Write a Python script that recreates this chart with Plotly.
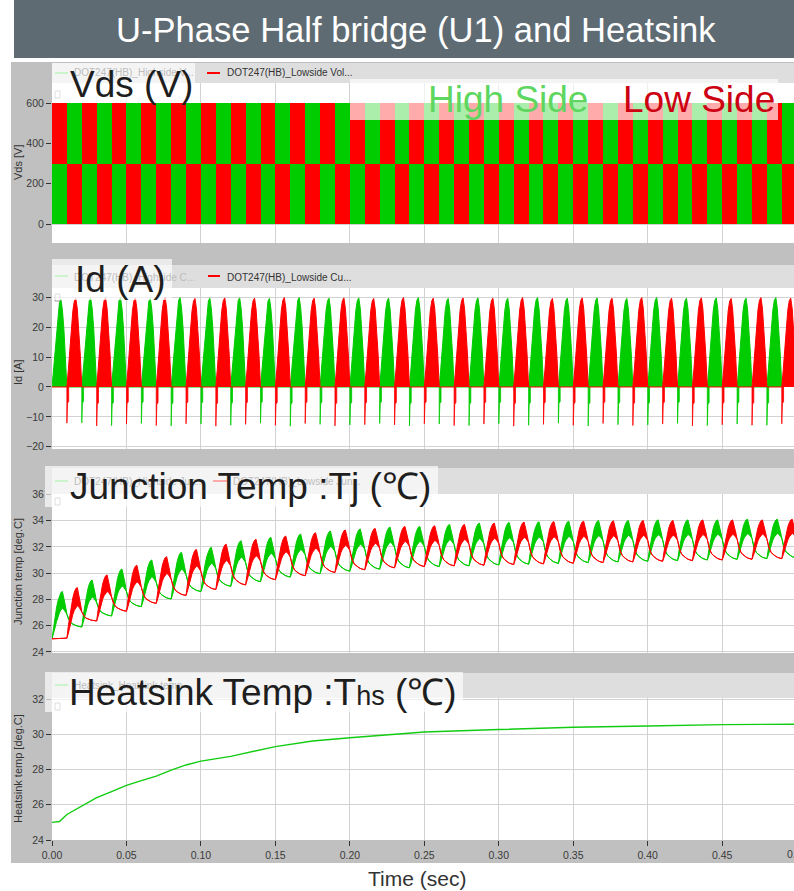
import plotly.graph_objects as go

W, H = 794, 891
FONT = "Liberation Sans, Arial, sans-serif"

# ---------------- data ----------------
half_period = 0.01            # s, one conduction half-cycle (50 Hz fundamental)
n_half = 50                   # half-cycles in 0 ... 0.5 s
t_end = 0.4982                # right edge of the time axis (0.50 sits just off-picture)
x_ticks = [0.0, 0.05, 0.10, 0.15, 0.20, 0.25, 0.30, 0.35, 0.40, 0.45]

vds_bus = 600                 # V
vds_split = 300               # V, where the two colour rows meet
vds_ticks = [0, 200, 400, 600]

# Id: peak of every conduction hump [A]  (high side at 0.00, 0.02 ...; low side at 0.01, 0.03 ...)
id_hs_peak = [29.2, 29.7, 29.8, 29.6, 29.9, 29.7, 29.8, 29.6, 29.9, 29.7, 29.8, 29.7, 29.9,
              29.6, 29.8, 29.7, 29.9, 29.7, 29.8, 29.6, 29.9, 29.7, 29.8, 29.7, 29.9]
id_ls_peak = [29.6, 29.8, 29.7, 29.9, 29.6, 29.8, 29.7, 29.9, 29.7, 29.8, 29.6, 29.9, 29.7,
              29.8, 29.7, 29.9, 29.6, 29.8, 29.7, 29.9, 29.7, 29.8, 29.6, 29.9, 29.7]
# reverse spike at the start of each hump [A] (first high-side hump has none)
id_hs_spike = [0.0, -12.0, -12.9, -12.2, -13.0, -12.4, -12.8, -12.1, -13.1, -12.5, -12.7, -12.2, -13.0,
               -12.4, -12.9, -12.3, -12.8, -12.1, -13.0, -12.6, -12.7, -12.2, -12.9, -12.4, -12.8]
id_ls_spike = [-12.1, -13.0, -12.4, -12.9, -12.3, -13.1, -12.5, -12.8, -12.2, -13.0, -12.6, -12.7, -12.3,
               -12.9, -12.4, -13.1, -12.5, -12.8, -12.2, -12.9, -12.4, -13.0, -12.6, -12.8, -12.3]
# hump shape (fraction of peak) at 1 ms steps across a half-cycle
id_hump_profile = [0.0, 0.20, 0.44, 0.67, 0.86, 0.97, 1.0, 0.88, 0.66, 0.36, 0.0]
id_ticks = [-20, -10, 0, 10, 20, 30]

# Junction temperature [deg C]
tj_hs_trough = [25.0, 25.9, 26.74, 27.45, 28.03, 28.6, 29.0, 29.35, 29.7, 29.95, 30.15, 30.3, 30.4,
                30.5, 30.55, 30.62, 30.68, 30.74, 30.8, 30.85, 30.9, 30.95, 31.0, 31.05, 31.1, 31.15]
tj_hs_peak = [28.6, 29.47, 30.31, 31.0, 31.58, 31.96, 32.46, 32.72, 32.97, 33.2, 33.35, 33.5, 33.55,
              33.7, 33.8, 33.85, 33.9, 33.95, 34.0, 34.0, 34.05, 34.05, 34.05, 34.1, 34.1]
tj_ls_start = 25.0
tj_ls_trough = [25.05, 26.36, 27.1, 27.7, 28.3, 28.75, 29.1, 29.5, 29.8, 30.05, 30.25, 30.4, 30.5,
                30.55, 30.6, 30.65, 30.7, 30.75, 30.8, 30.85, 30.9, 30.95, 31.0, 31.05, 31.1, 31.15]
tj_ls_peak = [28.9, 29.86, 30.6, 31.25, 31.8, 32.2, 32.57, 32.82, 33.07, 33.28, 33.4, 33.55, 33.6,
              33.7, 33.8, 33.88, 33.92, 33.95, 33.98, 34.0, 34.0, 34.05, 34.05, 34.05, 34.1]
# ripple band during conduction (fraction of peak - trough, 1 ms steps) and decay afterwards
tj_rise_upper = [0.0, 0.25, 0.47, 0.65, 0.80, 0.91, 0.98, 1.0, 0.88, 0.70, 0.52]
tj_rise_lower = [0.0, 0.10, 0.23, 0.36, 0.47, 0.55, 0.61, 0.64, 0.62, 0.57, 0.52]
tj_decay = [0.62, 0.42, 0.30, 0.22, 0.16, 0.11, 0.07, 0.04, 0.02, 0.0]
tj_ticks = [24, 26, 28, 30, 32, 34, 36]

# Heatsink temperature [deg C]
t_hs = [0.0, 0.005, 0.01, 0.02, 0.03, 0.04, 0.05, 0.06, 0.07, 0.08, 0.09, 0.10, 0.12, 0.15,
        0.175, 0.20, 0.25, 0.30, 0.35, 0.40, 0.45, 0.4982]
ths = [25.0, 25.05, 25.45, 25.93, 26.4, 26.75, 27.1, 27.37, 27.63, 27.97, 28.26, 28.48, 28.75, 29.3,
       29.62, 29.8, 30.13, 30.27, 30.4, 30.47, 30.55, 30.57]
ths_ticks = [24, 26, 28, 30, 32]

GREEN = "#00cc00"
RED = "#ff0000"

# ---------------- helpers ----------------
def ax(x):
    return x / W

def ay(y):
    return 1 - y / H

fig = go.Figure()

# ---- Vds: colour blocks of each half cycle ----
centers = [half_period * (k + 0.5) for k in range(n_half)]
hs_base = [0 if k % 2 == 0 else vds_split for k in range(n_half)]
ls_base = [vds_split if k % 2 == 0 else 0 for k in range(n_half)]
fig.add_trace(go.Bar(x=centers, y=[vds_bus - vds_split] * n_half, base=hs_base, width=half_period,
                     marker=dict(color=GREEN, line=dict(width=0)), opacity=1, xaxis="x", yaxis="y"))
fig.add_trace(go.Bar(x=centers, y=[vds_split] * n_half, base=ls_base, width=half_period,
                     marker=dict(color=RED, line=dict(width=0)), opacity=1, xaxis="x", yaxis="y"))

# ---- Id ----
step = half_period / (len(id_hump_profile) - 1)

def hump_series(first_start, peaks):
    xs, ys = [0.0], [0.0]
    for k, p in enumerate(peaks):
        t0 = first_start + 2 * half_period * k
        for i, f in enumerate(id_hump_profile):
            xs.append(t0 + i * step)
            ys.append(p * f)
    return xs, ys

def spike_series(first_start, spikes):
    xs, ys = [], []
    for k, s in enumerate(spikes):
        if s == 0:
            continue
        t0 = first_start + 2 * half_period * k
        for dx, fy in [(0, 0), (0, 1), (0.0004, 1), (0.0004, 0.45), (0.0012, 0.4), (0.0012, 0)]:
            xs.append(t0 + dx)
            ys.append(s * fy)
        xs.append(None)
        ys.append(None)
    return xs, ys

for start, peaks, spikes, col in [(0.0, id_hs_peak, id_hs_spike, GREEN),
                                  (half_period, id_ls_peak, id_ls_spike, RED)]:
    hx, hy = hump_series(start, peaks)
    fig.add_trace(go.Scatter(x=hx, y=hy, mode="lines", fill="tozeroy", fillcolor=col,
                             line=dict(color=col, width=1), xaxis="x2", yaxis="y2"))
    sx, sy = spike_series(start, spikes)
    fig.add_trace(go.Scatter(x=sx, y=sy, mode="lines", fill="toself", fillcolor=col,
                             line=dict(color=col, width=0.8), xaxis="x2", yaxis="y2"))

# ---- Tj: lower and upper envelope, filled in between ----
tstep = half_period / (len(tj_rise_upper) - 1)

def tj_series(first_start, troughs, peaks, pre=None):
    lx, ly, ux, uy = [], [], [], []
    if pre is not None:
        lx.append(0.0)
        ly.append(pre)
        ux.append(0.0)
        uy.append(pre)
    for k, p in enumerate(peaks):
        t0 = first_start + 2 * half_period * k
        T0, T1 = troughs[k], troughs[k + 1]
        for i in range(len(tj_rise_upper)):
            t = t0 + i * tstep
            lx.append(t)
            ly.append(T0 + tj_rise_lower[i] * (p - T0))
            ux.append(t)
            uy.append(T0 + tj_rise_upper[i] * (p - T0))
        E = uy[-1]
        for j, f in enumerate(tj_decay):
            t = t0 + half_period + (j + 1) * tstep
            v = T1 + f * (E - T1)
            lx.append(t)
            ly.append(v)
            ux.append(t)
            uy.append(v)
    return lx, ly, ux, uy

for start, tr, pk, pre, col in [(0.0, tj_hs_trough, tj_hs_peak, None, GREEN),
                                (half_period, tj_ls_trough, tj_ls_peak, tj_ls_start, RED)]:
    lx, ly, ux, uy = tj_series(start, tr, pk, pre)
    fig.add_trace(go.Scatter(x=lx, y=ly, mode="lines", line=dict(color=col, width=1),
                             xaxis="x3", yaxis="y3"))
    fig.add_trace(go.Scatter(x=ux, y=uy, mode="lines", fill="tonexty", fillcolor=col,
                             line=dict(color=col, width=1), xaxis="x3", yaxis="y3"))

# ---- Heatsink ----
fig.add_trace(go.Scatter(x=t_hs, y=ths, mode="lines", line=dict(color="#11cc11", width=1.4),
                         xaxis="x4", yaxis="y4"))

# ---------------- axes ----------------
panels = [
    dict(top=83, bot=243, rng=[-94.2, 699.2], ticks=vds_ticks),
    dict(top=288, bot=449, rng=[-20.74, 33.11], ticks=id_ticks),
    dict(top=494, bot=653, rng=[23.92, 36.02], ticks=tj_ticks),
    dict(top=698, bot=840, rng=[24.0, 32.06], ticks=ths_ticks),
]
GRID = "#d2d2d2"
TICKFONT = dict(size=10.5, color="#3a3a3a", family=FONT)
layout_axes = {}
for i, p in enumerate(panels):
    sx = "" if i == 0 else str(i + 1)
    last = i == len(panels) - 1
    layout_axes["xaxis" + sx] = dict(
        domain=[ax(52), 1.0], range=[0, t_end], anchor="y" + sx, tickvals=x_ticks,
        tickformat=".2f", showgrid=True, gridcolor=GRID, gridwidth=1, zeroline=False,
        showticklabels=last, ticks="outside" if last else "", ticklen=5, tickcolor="#333",
        tickfont=TICKFONT, showline=False, fixedrange=True)
    layout_axes["yaxis" + sx] = dict(
        domain=[ay(p["bot"]), ay(p["top"])], range=p["rng"], anchor="x" + sx,
        tickvals=p["ticks"], showgrid=True, gridcolor=GRID, gridwidth=1, zeroline=False,
        ticks="outside", ticklen=5, tickcolor="#333", tickfont=TICKFONT, showline=False,
        fixedrange=True)

# ---------------- decorations ----------------
shapes = []

def rect(x0, y0, x1, y1, color, layer="below", line=None):
    shapes.append(dict(type="rect", xref="paper", yref="paper", x0=ax(x0), x1=ax(x1),
                       y0=ay(y1), y1=ay(y0), fillcolor=color,
                       line=line if line else dict(width=0), layer=layer))

def hline(x0, x1, y, color, width=2):
    shapes.append(dict(type="line", xref="paper", yref="paper", x0=ax(x0), x1=ax(x1),
                       y0=ay(y), y1=ay(y), line=dict(color=color, width=width), layer="above"))

rect(14, 0, 794, 58, "#5e6b73")
rect(11, 62, 794, 863, "#c0c0c0")
for top, bot in [(63, 83), (265, 288), (468, 494), (673, 698)]:
    rect(52, top, 794, bot, "#dedede")
for p in panels:
    rect(52, p["top"], 794, p["bot"], "white")

# legend swatches
hline(55, 68, 73, "#66dd66")
hline(207, 220, 73, RED)
hline(55, 68, 276, "#66dd66")
hline(208, 220, 276, RED)
hline(55, 68, 481, "#66dd66")
hline(213, 227, 481, RED)
hline(55, 68, 685, "#66dd66")

# small scroll handles at the top-left of each plot
for yy in [91, 294, 498, 703]:
    rect(55, yy, 60, yy + 7, "rgba(255,255,255,0)", "above", dict(color="#9a9a9a", width=1))

# translucent label boxes
BOX = "rgba(255,255,255,0.67)"
rect(52, 63, 195, 103, BOX, "above")
rect(350, 79, 778, 120, BOX, "above")
rect(52, 259, 172, 300, BOX, "above")
rect(45, 466, 438, 507, BOX, "above")
rect(45, 672, 463, 712, BOX, "above")

annotations = []

def text(s, x, y, size, color, xanchor="left", angle=0):
    annotations.append(dict(text=s, x=ax(x), y=ay(y), xref="paper", yref="paper",
                            xanchor=xanchor, yanchor="middle", showarrow=False,
                            textangle=angle, font=dict(size=size, color=color, family=FONT)))

text("U-Phase Half bridge (U1) and Heatsink", 416, 30, 34.6, "white", "center")

# small legend texts
FADED = "#bdbdbd"
text("DOT247(HB)_Highside V...", 72, 73, 10, FADED)
text("DOT247(HB)_Lowside Vol...", 225, 73, 10, "#333333")
text("DOT247(HB)_Highside C...", 72, 277, 10, FADED)
text("DOT247(HB)_Lowside Cu...", 225, 277, 10, "#333333")
text("DOT247(HB)_Highside Jun...", 72, 481, 10, FADED)
text("DOT247(HB)_Lowside Jun...", 231, 481, 10, FADED)
text("Heatsink_Heatsink temp", 72, 685, 10, FADED)

# big panel labels
BIG = 37
DARK = "#1e1e1e"
text("Vds (V)", 68, 84, BIG, DARK)
text("High Side", 426, 99, BIG, "#5fd65f")
text("Low Side", 621, 99, BIG, "#cc0011")
text("Id (A)", 73, 279, BIG, DARK)
text("Junction Temp :Tj (℃)", 68, 487, BIG, DARK)
text("Heatsink Temp :T<span style='font-size:27px'>hs</span> (℃)", 67, 692, BIG, DARK)

# y axis titles
for label, yc in [("Vds [V]", 163), ("Id [A]", 372), ("Junction temp [deg.C]", 572),
                  ("Heatsink temp [deg.C]", 769)]:
    text(label, 18, yc, 11, "#333333", "center", -90)

text("0.50", 797.5, 854, 10.5, "#3a3a3a", "center")
text("Time (sec)", 417, 878, 21, "#333333", "center")

fig.update_layout(
    width=W, height=H, autosize=False,
    margin=dict(l=0, r=0, t=0, b=0, pad=0, autoexpand=False),
    paper_bgcolor="white", plot_bgcolor="rgba(0,0,0,0)",
    showlegend=False, barmode="overlay", bargap=0, hovermode=False,
    shapes=shapes, annotations=annotations,
    font=dict(family=FONT),
    **layout_axes,
)

pin_script = (
    "document.documentElement.style.margin='0';"
    "document.documentElement.style.overflow='hidden';"
    "document.body.style.margin='0';document.body.style.padding='0';"
    "document.body.style.overflow='hidden';"
    "var gd=document.getElementById('{plot_id}');"
    "gd.style.position='absolute';gd.style.left='0px';gd.style.top='0px';"
)
fig.write_html("out.html", config={"displayModeBar": False}, post_script=pin_script)
